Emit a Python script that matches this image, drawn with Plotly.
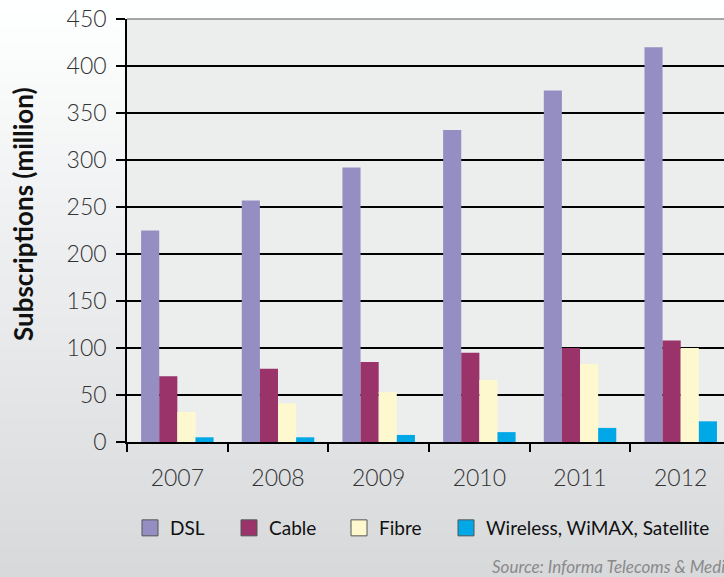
import plotly.graph_objects as go

years = ["2007", "2008", "2009", "2010", "2011", "2012"]
dsl = [225, 257, 292, 332, 374, 420]
cable = [70, 78, 85, 95, 100, 108]
fibre = [32, 41, 53, 66, 83, 100]
wireless = [5, 5, 7.5, 10.5, 15, 22]

series_names = ["DSL", "Cable", "Fibre", "Wireless, WiMAX, Satellite"]
series_values = [dsl, cable, fibre, wireless]
series_colors = ["#958ec3", "#99336a", "#fdf8cd", "#00a8e8"]

W, H = 724, 577
L, T, B = 127, 19, 135
pw, ph = W - L, H - T - B

legend_ids = ["legend", "legend2", "legend3", "legend4"]
legend_px = [130, 229, 339, 446]

fig = go.Figure()
for name, vals, col in zip(series_names, series_values, series_colors):
    fig.add_trace(go.Bar(x=years, y=vals, name=name, showlegend=False,
                         marker=dict(color=col, line=dict(width=0))))
# legend entries (larger square swatches), one legend each for exact placement
for name, col, lid in zip(series_names, series_colors, legend_ids):
    fig.add_trace(go.Scatter(x=[None], y=[None], mode="markers", name=name, legend=lid,
                             marker=dict(symbol="square", size=16, color=col,
                                         line=dict(color="#555555", width=1))))

# background gradient bands (paper coords)
shapes = []
n = 40
top = (0xff, 0xff, 0xff)
bot = (0xd6, 0xd9, 0xdb)
for i in range(n):
    y0px = H * i / n
    y1px = H * (i + 1) / n + 1
    f = (i + 0.5) / n
    c = tuple(int(round(top[k] + (bot[k] - top[k]) * f)) for k in range(3))
    shapes.append(dict(type="rect", xref="paper", yref="paper", layer="below",
                       x0=(0 - L) / pw, x1=(W - L + 5) / pw,
                       y0=(H - B - y1px) / ph, y1=(H - B - y0px) / ph,
                       line=dict(width=0), fillcolor="rgb(%d,%d,%d)" % c))
# plot area background
shapes.append(dict(type="rect", xref="paper", yref="paper", layer="below",
                   x0=0, x1=1.01, y0=0, y1=1, line=dict(width=0), fillcolor="#eceeed"))
# top border
shapes.append(dict(type="line", xref="paper", yref="paper", x0=0, x1=1.01, y0=1, y1=1,
                   line=dict(color="#8a8a8a", width=1.5)))

tickfont = dict(family="Lato", size=23, color="#333333", weight=300)

legends = {}
for lid, px in zip(legend_ids, legend_px):
    legends[lid] = dict(orientation="h", xref="paper", yref="paper",
                        x=(px - L) / pw, y=(442 - 528) / ph, xanchor="left", yanchor="middle",
                        font=dict(family="Lato", size=19, color="#111111"),
                        bgcolor="rgba(0,0,0,0)")

fig.update_layout(
    width=W, height=H,
    margin=dict(l=L, r=0, t=T, b=B),
    paper_bgcolor="rgba(0,0,0,0)",
    plot_bgcolor="rgba(0,0,0,0)",
    barmode="group",
    bargap=0.28,
    bargroupgap=0,
    shapes=shapes,
    font=dict(family="Lato", color="#333333"),
    xaxis=dict(type="category", range=[-0.5, 5.43], tickson="boundaries",
               ticks="outside", ticklen=8, tickwidth=1.5, tickcolor="black",
               showline=True, linecolor="black", linewidth=1.5,
               showgrid=False, tickfont=tickfont, ticklabelstandoff=15),
    yaxis=dict(range=[0, 450], dtick=50, ticks="outside", ticklen=9, tickwidth=1.5,
               tickcolor="black", showline=True, linecolor="black", linewidth=1.5,
               showgrid=True, gridcolor="black", gridwidth=1.5, zeroline=False,
               tickfont=tickfont, ticklabelstandoff=5),
    annotations=[
        dict(text="<b>Subscriptions (million)</b>", xref="paper", yref="paper",
             x=(23 - L) / pw, y=(442 - 214) / ph, xanchor="center", yanchor="middle",
             textangle=-90, showarrow=False,
             font=dict(family="Lato", size=26, color="#111111")),
        dict(text="<i>Source: Informa Telecoms & Media</i>", xref="paper", yref="paper",
             x=(490 - L) / pw, y=(H - B - 566) / ph, xanchor="left", yanchor="middle",
             showarrow=False, font=dict(family="Lato", size=17, color="#8a8a8a")),
    ],
    **legends,
)

fig.write_html("out.html", config={"displayModeBar": False},
               post_script="document.body.style.margin='0';")
